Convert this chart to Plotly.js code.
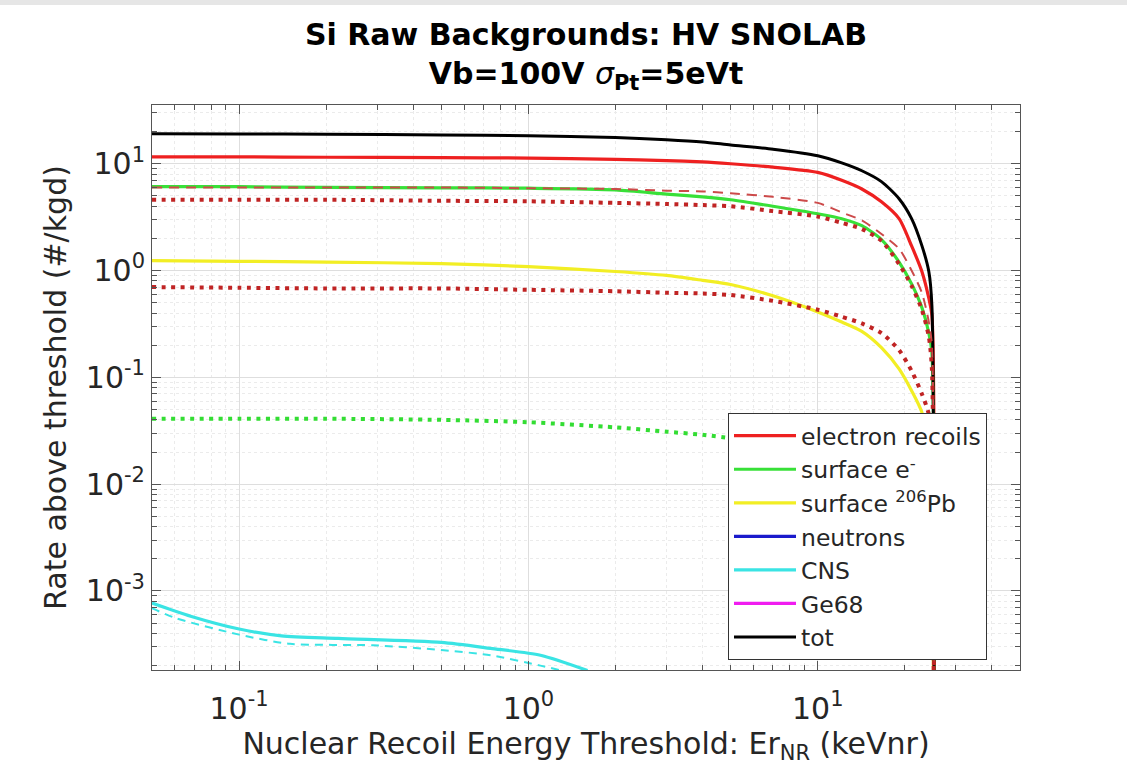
<!DOCTYPE html>
<html>
<head>
<meta charset="utf-8">
<script src="https://cdn.plot.ly/plotly-3.0.1.min.js"></script>
<style>
  html, body { margin: 0; padding: 0; background: #ffffff; }
  #topbar { position: absolute; left: 0; top: 0; width: 1127px; height: 5px; background: #e6e6e6; z-index: 5; }
  #chart { width: 1127px; height: 772px; }
</style>
</head>
<body>
<div id="topbar"></div>
<div id="chart"></div>
<script>
// ---- Data (x: keVnr threshold, y: rate above threshold #/kgd) ----
const energy = [0.05, 0.1, 0.2, 0.5, 1, 2, 3, 4, 5, 7, 10, 12.1, 14.2, 16.6, 19.1, 21.1, 22.9, 24.2, 24.8, 25.2];
const electronRecoils = [11.6, 11.6, 11.5, 11.4, 11.3, 11.0, 10.7, 10.4, 10.0, 9.3, 8.3, 7.0, 5.8, 4.4, 3.06, 1.70, 0.98, 0.55, 0.38, 1e-6];
const electronRecoilsDashed = [6.0, 6.0, 6.0, 6.0, 5.9, 5.8, 5.6, 5.5, 5.3, 4.9, 4.3, 3.5, 2.95, 2.2, 1.6, 1.0, 0.62, 0.33, 0.2, 1e-6];
const electronRecoilsDotHigh = [4.6, 4.6, 4.6, 4.5, 4.45, 4.3, 4.2, 4.1, 4.0, 3.6, 3.2, 2.8, 2.45, 1.9, 1.15, 0.72, 0.43, 0.24, 0.12, 1e-6];
const electronRecoilsDotLow = [0.70, 0.69, 0.68, 0.68, 0.66, 0.64, 0.62, 0.61, 0.59, 0.52, 0.43, 0.37, 0.32, 0.26, 0.18, 0.115, 0.07, 0.045, 0.02, 1e-6];
const surfaceE = [6.1, 6.1, 6.0, 5.95, 5.9, 5.7, 5.2, 4.9, 4.6, 4.0, 3.4, 3.06, 2.63, 1.95, 1.2, 0.75, 0.45, 0.26, 0.17, 1e-6];
const surfacePb = [1.24, 1.22, 1.2, 1.16, 1.09, 0.98, 0.9, 0.81, 0.74, 0.58, 0.41, 0.33, 0.27, 0.19, 0.12, 0.075, 0.047, 0.02, 0.007, 1e-6];
const total = [19.1, 19.0, 18.9, 18.6, 18.3, 17.6, 16.8, 16.0, 15.0, 13.7, 11.9, 10.2, 8.6, 6.8, 4.7, 3.06, 1.71, 0.98, 0.47, 1e-6];

const energyShort = [0.05, 0.1, 0.2, 0.5, 1, 2, 3, 4, 5];
const surfaceEDotted = [0.041, 0.041, 0.041, 0.040, 0.038, 0.034, 0.031, 0.029, 0.027];

const energyCNS = [0.05, 0.068, 0.1, 0.14, 0.22, 0.5, 0.74, 1.1, 1.6];
const cns = [7.7e-4, 5.8e-4, 4.4e-4, 3.8e-4, 3.6e-4, 3.3e-4, 2.9e-4, 2.5e-4, 1.8e-4];
const energyCNSDashed = [0.05, 0.06, 0.1, 0.15, 0.29, 0.5, 0.74, 1.1, 1.3];
const cnsDashed = [6.9e-4, 5.6e-4, 3.9e-4, 3.2e-4, 3.1e-4, 2.8e-4, 2.5e-4, 2.0e-4, 1.8e-4];

// neutrons and Ge68 lie below the plotted range (no visible values): legend entries only
const neutrons = [null];
const ge68 = [null];

const legendNames = ['electron recoils', 'surface e<sup>-</sup>', 'surface <sup>206</sup>Pb', 'neutrons', 'CNS', 'Ge68', 'tot'];
const xTickVals = [0.1, 1, 10];
const xTickText = ['10<sup>-1</sup>', '10<sup>0</sup>', '10<sup>1</sup>'];
const yTickVals = [1e-3, 1e-2, 1e-1, 1, 10];
const yTickText = ['10<sup>-3</sup>', '10<sup>-2</sup>', '10<sup>-1</sup>', '10<sup>0</sup>', '10<sup>1</sup>'];

// ---- Styling ----
const C = {
  red: '#ee2020', green: '#38e038', yellow: '#f2ee24', blue: '#1a1acc',
  cyan: '#3ae4e4', magenta: '#f01cf0', black: '#000000',
  redDash: '#cc4a4a', redDot: '#c02424', greenDot: '#33dd33'
};
const FONT = 'DejaVu Sans, Verdana, sans-serif';
const SMOOTH = {shape: 'spline', smoothing: 0.7};

function minorVals(lo, hi) {
  const v = [];
  for (let e = lo; e <= hi; e++) for (let m = 2; m <= 9; m++) v.push(m * Math.pow(10, e));
  return v;
}
function ln(color, width, extra) { return Object.assign({color: color, width: width}, SMOOTH, extra || {}); }

const traces = [
  {x: energy, y: electronRecoils, name: legendNames[0], mode: 'lines', line: ln(C.red, 3.2)},
  {x: energy, y: surfaceE, name: legendNames[1], mode: 'lines', line: ln(C.green, 3.2)},
  {x: energy, y: surfacePb, name: legendNames[2], mode: 'lines', line: ln(C.yellow, 3.2)},
  {x: neutrons, y: neutrons, name: legendNames[3], mode: 'lines', line: ln(C.blue, 3.2)},
  {x: energyCNS, y: cns, name: legendNames[4], mode: 'lines', line: ln(C.cyan, 3.2)},
  {x: ge68, y: ge68, name: legendNames[5], mode: 'lines', line: ln(C.magenta, 3.2)},
  {x: energy, y: total, name: legendNames[6], mode: 'lines', line: ln(C.black, 3)},
  {x: energy, y: electronRecoilsDashed, mode: 'lines', showlegend: false, line: ln(C.redDash, 2, {dash: '10px,7px'})},
  {x: energy, y: electronRecoilsDotHigh, mode: 'lines', showlegend: false, line: ln(C.redDot, 4, {dash: '4px,5.5px'})},
  {x: energy, y: electronRecoilsDotLow, mode: 'lines', showlegend: false, line: ln(C.redDot, 4, {dash: '4px,5.5px'})},
  {x: energyShort, y: surfaceEDotted, mode: 'lines', showlegend: false, line: ln(C.greenDot, 4, {dash: '4px,5.5px'})},
  {x: energyCNSDashed, y: cnsDashed, mode: 'lines', showlegend: false, line: ln(C.cyan, 2, {dash: '8px,6px'})}
];

const axisCommon = {
  type: 'log',
  showline: true, linecolor: '#555555', linewidth: 1,
  mirror: 'allticks', ticks: 'inside', ticklen: 9, tickcolor: '#555555',
  showgrid: true, gridcolor: '#dedede', gridwidth: 1,
  tickfont: {family: FONT, size: 30, color: '#262626'},
  zeroline: false
};

const layout = {
  width: 1127, height: 772,
  paper_bgcolor: '#ffffff', plot_bgcolor: '#ffffff',
  margin: {l: 152, r: 107, t: 105, b: 102},
  font: {family: FONT, color: '#262626'},
  title: {
    text: '<b>Si Raw Backgrounds: HV SNOLAB</b><br><b>Vb=100V </b><i>σ</i><sub><b>Pt</b></sub><b>=5eVt</b>',
    font: {family: FONT, size: 30, color: '#000000'},
    x: 0.5, xref: 'paper', xanchor: 'center',
    y: 0.942, yref: 'container', yanchor: 'top'
  },
  xaxis: Object.assign({}, axisCommon, {
    range: [Math.log10(0.05), Math.log10(50)],
    tickvals: xTickVals, ticktext: xTickText,
    ticklabelstandoff: 12,
    minor: {tickvals: minorVals(-2, 1), ticks: 'inside', ticklen: 5, tickcolor: '#555555',
            showgrid: true, gridcolor: '#ebebeb', griddash: 'dot', gridwidth: 1},
    title: {text: 'Nuclear Recoil Energy Threshold: Er<sub>NR</sub> (keVnr)',
            font: {family: FONT, size: 30, color: '#262626'}, standoff: 6}
  }),
  yaxis: Object.assign({}, axisCommon, {
    range: [-3.74, 1.55],
    tickvals: yTickVals, ticktext: yTickText,
    minor: {tickvals: minorVals(-4, 1), ticks: 'inside', ticklen: 5, tickcolor: '#555555',
            showgrid: true, gridcolor: '#ebebeb', griddash: 'dot', gridwidth: 1},
    title: {text: 'Rate above threshold (#/kgd)',
            font: {family: FONT, size: 30, color: '#262626'}, standoff: 10}
  }),
  legend: {
    x: 0.6636, y: 0.455, xanchor: 'left', yanchor: 'top',
    bgcolor: '#ffffff', bordercolor: '#333333', borderwidth: 1,
    font: {family: FONT, size: 23.5, color: '#262626'},
    traceorder: 'normal', itemwidth: 62
  },
  showlegend: true
};

Plotly.newPlot('chart', traces, layout, {staticPlot: true, displayModeBar: false});
</script>
</body>
</html>
